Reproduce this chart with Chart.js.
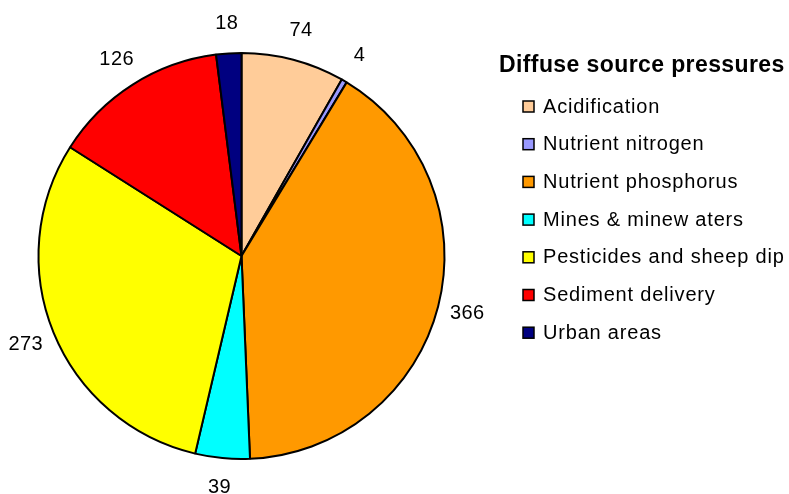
<!DOCTYPE html>
<html>
<head>
<meta charset="utf-8">
<script src="https://cdn.jsdelivr.net/npm/chart.js@4"></script>
<style>
  html, body { margin: 0; padding: 0; background: #fff; }
  #wrap { width: 789px; height: 494px; }
</style>
</head>
<body>
<div id="wrap"><canvas id="pieChart" width="789" height="494"></canvas></div>
<script>
// data
const categories = ["Acidification", "Nutrient nitrogen", "Nutrient phosphorus", "Mines & minew aters",
  "Pesticides and sheep dip", "Sediment delivery", "Urban areas"];
const counts = [74, 4, 366, 39, 273, 126, 18];
const sliceColors = ["#FFCC99", "#9999FF", "#FF9900", "#00FFFF", "#FFFF00", "#FF0000", "#000080"];
const legendTitle = "Diffuse source pressures";

const FONT = "'Liberation Sans', Arial, sans-serif";

// value labels just outside each slice, placed along the slice mid angle
const outsideLabels = {
  id: "outsideLabels",
  afterDatasetsDraw(chart) {
    const ctx = chart.ctx;
    const meta = chart.getDatasetMeta(0);
    ctx.save();
    ctx.font = "20px " + FONT;
    ctx.letterSpacing = "0.4px";
    ctx.fillStyle = "#000";
    ctx.textAlign = "center";
    ctx.textBaseline = "middle";
    meta.data.forEach((arc, i) => {
      const p = arc.getProps(["x", "y", "startAngle", "endAngle", "outerRadius"], true);
      const mid = (p.startAngle + p.endAngle) / 2;
      const r = p.outerRadius + 30;
      ctx.fillText(String(chart.data.datasets[0].data[i]), p.x + Math.cos(mid) * r, p.y + Math.sin(mid) * r);
    });
    ctx.restore();
  }
};

// legend on the right, drawn by hand to match the layout
const sideLegend = {
  id: "sideLegend",
  afterDraw(chart) {
    const ctx = chart.ctx;
    ctx.save();
    ctx.fillStyle = "#000";
    ctx.textBaseline = "middle";
    ctx.textAlign = "left";
    ctx.font = "bold 23px " + FONT;
    ctx.letterSpacing = "0.4px";
    ctx.fillText(legendTitle, 499, 66);
    ctx.font = "20px " + FONT;
    ctx.letterSpacing = "0.8px";
    const ds = chart.data.datasets[0];
    chart.data.labels.forEach((lab, i) => {
      const y = 107 + i * 37.7;
      ctx.fillStyle = ds.backgroundColor[i];
      ctx.fillRect(523, y - 6, 11, 11);
      ctx.strokeStyle = "#000";
      ctx.lineWidth = 1.5;
      ctx.strokeRect(523, y - 6, 11, 11);
      ctx.fillStyle = "#000";
      ctx.fillText(lab, 543, y);
    });
    ctx.restore();
  }
};

new Chart(document.getElementById("pieChart").getContext("2d"), {
  type: "pie",
  data: {
    labels: categories,
    datasets: [{
      data: counts,
      backgroundColor: sliceColors,
      borderColor: "#000",
      borderWidth: 2,
      hoverOffset: 0
    }]
  },
  options: {
    responsive: false,
    animation: false,
    layout: { padding: { left: 37, top: 52, right: 343, bottom: 34 } },
    plugins: {
      legend: { display: false },
      tooltip: { enabled: false }
    }
  },
  plugins: [outsideLabels, sideLegend]
});
</script>
</body>
</html>
